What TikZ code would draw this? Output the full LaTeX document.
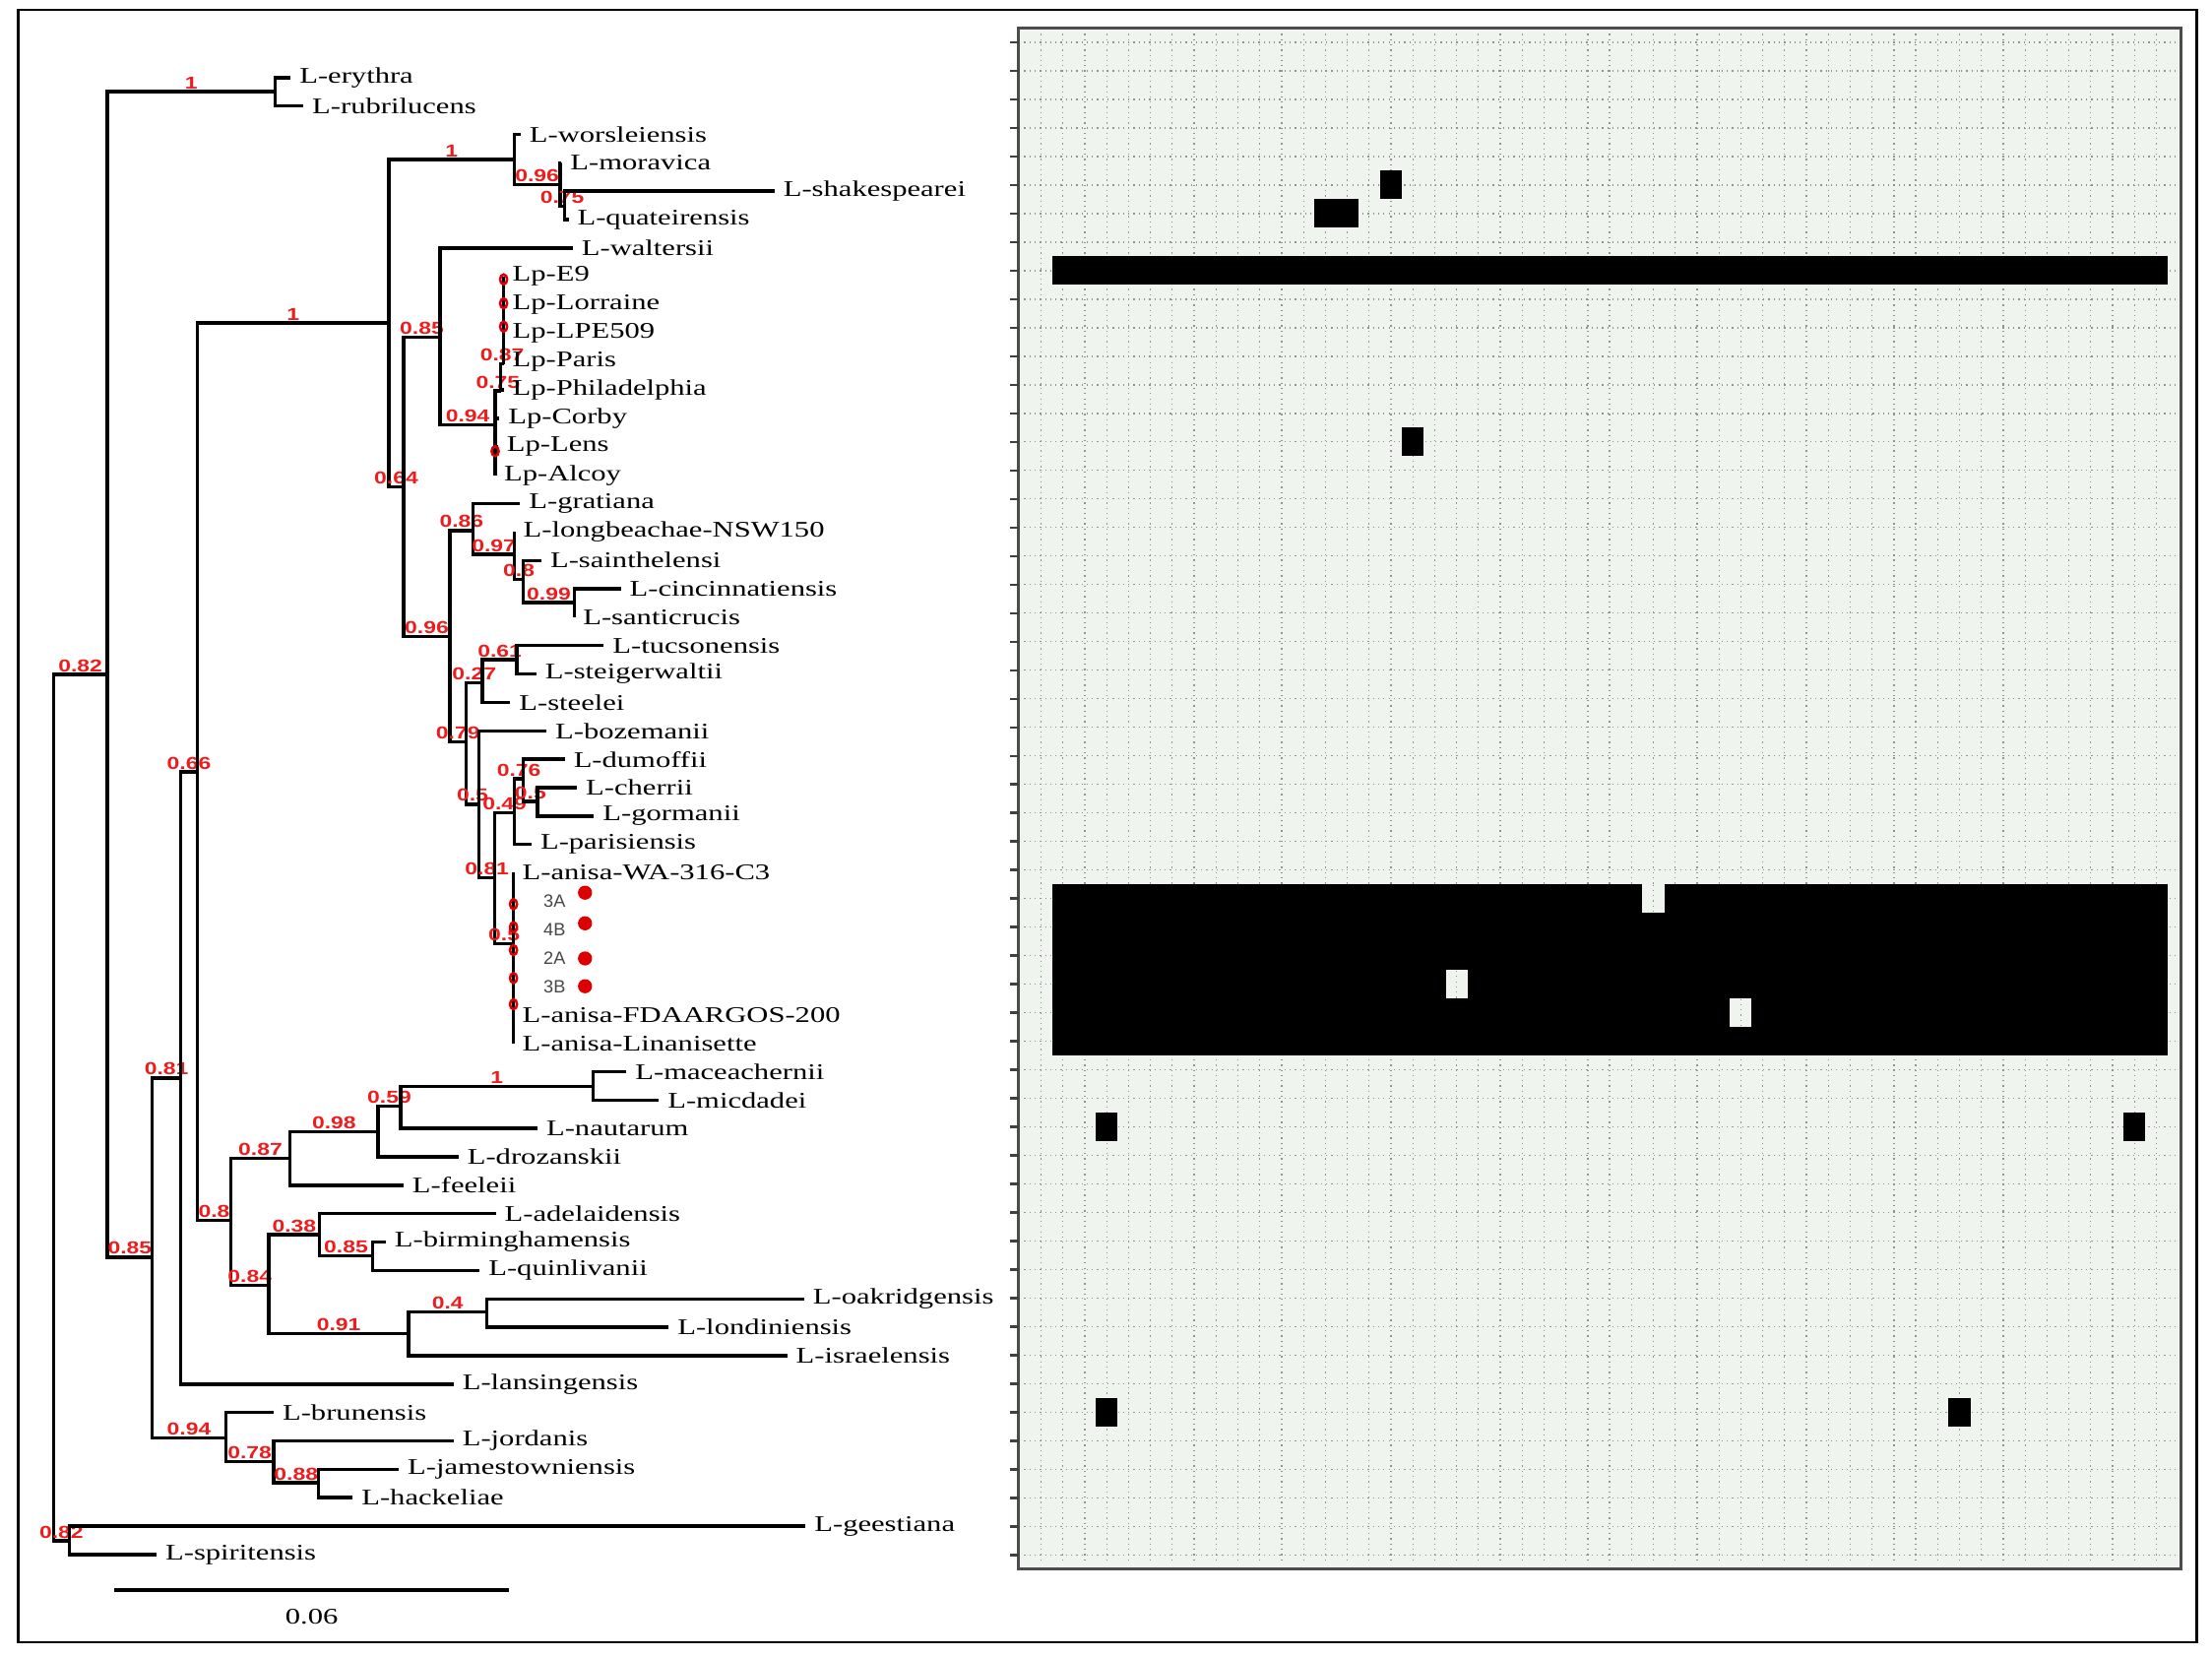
\documentclass[tikz,border=0pt]{standalone}
\usepackage{fontspec}
\usepackage{tikz}
\newfontfamily\leaffont{Liberation Serif}[FakeStretch=1.35]
\newfontfamily\suppfont{Liberation Sans}[FakeStretch=1.3]
\newfontfamily\isofont{Liberation Sans}
\definecolor{suppred}{RGB}{238,28,28}
\definecolor{dotred}{RGB}{222,0,0}
\definecolor{gridbg}{RGB}{240,244,238}
\definecolor{isogray}{RGB}{70,70,70}
\newcommand{\hmblock}[5]{\fill[#5] ({738+15.5*(#1-1)-7.75},{30+20.23*(#3-1)-10.1}) rectangle ({738+15.5*(#2-1)+7.75},{30+20.23*(#4-1)+10.1});}

\begin{document}
\begin{tikzpicture}[x=0.02cm, y=-0.02cm,
    branch/.style={line width=1.35pt},
    leaf/.style={anchor=west, inner sep=0pt, xshift=0.12cm, font=\leaffont\fontsize{9}{10}\selectfont},
    supp/.style={anchor=south, inner sep=0.4pt, text=suppred, font=\suppfont\bfseries\fontsize{7}{7}\selectfont},
    iso/.style={anchor=west, inner sep=0pt, text=isogray, font=\isofont\fontsize{7.2}{8}\selectfont},
    dotring/.style={draw=dotred, line width=1pt},
    hmgrid/.style={gray!85, line width=0.5pt, dash pattern=on 0.5pt off 1.6pt}
]
    \useasboundingbox (0,0) rectangle (1568,1174);
    \draw[line width=1.1pt] (13,7) rectangle (1557,1164);

    % heat map
    \draw[gray!60!black, line width=1pt, fill=gridbg] (722,20) rectangle (1546,1112);
    \foreach \c in {0,...,51}
        \draw[hmgrid] ({738+15.5*\c},24) -- ({738+15.5*\c},1108);
    \foreach \r in {0,...,53} {
        \draw[hmgrid] (726,{30+20.23*\r}) -- (1542,{30+20.23*\r});
        \draw[line width=1pt, gray!50!black] (716,{30+20.23*\r}) -- (722,{30+20.23*\r});
    }
    \hmblock{17}{17}{6}{6}{black}
    \hmblock{14}{15}{7}{7}{black}
    \hmblock{2}{52}{9}{9}{black}
    \hmblock{18}{18}{15}{15}{black}
    \hmblock{2}{52}{31}{36}{black}
    \hmblock{29}{29}{31}{31}{gridbg}
    \hmblock{20}{20}{34}{34}{gridbg}
    \hmblock{33}{33}{35}{35}{gridbg}
    \draw[hmgrid] ({738+15.5*28},627) -- ({738+15.5*28},647);
    \draw[hmgrid] ({738+15.5*19},688) -- ({738+15.5*19},708);
    \draw[hmgrid] ({738+15.5*32},708) -- ({738+15.5*32},728);
    \hmblock{4}{4}{39}{39}{black}
    \hmblock{51}{51}{39}{39}{black}
    \hmblock{4}{4}{49}{49}{black}
    \hmblock{43}{43}{49}{49}{black}

    % tree
    \foreach \n/\x/\y in {root/38/785, c82a/76/478, c82b/49/1092, c1a/195/65, c85a/108/891,
        c81a/128/764, c94a/160/1019, c66/140/547, c1b/275.7/229, c8a/163.5/865,
        c1c/364.5/113, c64/286/345, c96a/397/131, c75a/400/146, c85b/312/239,
        c96b/319/451, c94b/351/301, c75b/355/277, c87a/357/258, c86/335.4/376,
        c97/364.7/393, c8b/371/410.5, c99/407/427, c79/330.3/526, c27/342/484,
        c61/366.4/467.5, c5a/339.6/570, c81b/350.8/622, c49/364.7/576, c76/371/552,
        c5b/381/568, c5c/364/669, c87b/205.6/821, c98/268/802, c59/284/784,
        c1d/420.6/770, c84/190.6/911, c38/226.6/875, c85c/264/890, c91/289.7/945,
        c4/345/930, c78/194/1036, c88/225.7/1051}
        \coordinate (\n) at (\x,\y);
    \foreach \n/\x/\y in {ery/206/55.0, rub/215/75.1, wor/369/95.3, mor/398/115.4,
        sha/549/135.5, qua/403/155.7, wal/406/175.8, e9/357/195.9, lor/357/216.0,
        lpe/357/236.2, par/357/256.3, phi/357/276.4, cor/354/296.6, len/353/316.7,
        alc/351/336.8, gra/368.7/357.0, lon/364.7/377.1, sai/383.8/397.2,
        cin/440/417.3, san/407/437.5, tuc/428/457.6, ste/380.2/477.7,
        stl/361.7/497.9, boz/387.3/518.0, dum/400.3/538.1, che/409/558.3,
        gor/421/578.4, pas/376.8/598.5, wa/364/618.6, s3a/364/638.8, s4b/364/658.9,
        s2a/364/679.0, s3b/364/699.2, fda/364/719.3, lin/364/739.4, mac/444/759.6,
        mic/467/779.7, nau/381/799.8, dro/325/820.0, fee/286/840.1, ade/351.4/860.2,
        bir/273.4/880.3, qui/340/900.5, oak/570/920.6, ldn/474/940.7, isr/558/960.9,
        lan/321.5/981.0, bru/194/1001.1, jor/321.5/1021.2, jam/282.7/1041.4,
        hac/250/1061.5, gee/571/1081.6, spi/111/1101.8}
        \coordinate (\n) at (\x,\y);

    \foreach \p/\c/\s in {root/c82a/0.82, root/c82b/0.82, c82a/c1a/1, c82a/c85a/0.85,
        c85a/c81a/0.81, c85a/c94a/0.94, c81a/c66/0.66, c66/c1b/1, c66/c8a/0.8,
        c1b/c1c/1, c1b/c64/0.64, c1c/c96a/0.96, c96a/c75a/0.75, c64/c85b/0.85,
        c64/c96b/0.96, c85b/c94b/0.94, c94b/c75b/0.75, c75b/c87a/0.87,
        c96b/c86/0.86, c96b/c79/0.79, c86/c97/0.97, c97/c8b/0.8, c8b/c99/0.99,
        c79/c27/0.27, c79/c5a/0.5, c27/c61/0.61, c5a/c81b/0.81, c81b/c49/0.49,
        c81b/c5c/0.5, c49/c76/0.76, c76/c5b/0.5, c8a/c87b/0.87, c8a/c84/0.84,
        c87b/c98/0.98, c98/c59/0.59, c59/c1d/1, c84/c38/0.38, c84/c91/0.91,
        c38/c85c/0.85, c91/c4/0.4, c94a/c78/0.78, c78/c88/0.88}
        \draw[branch] (\p) |- (\c) node[supp, pos=0.75] (l-\c) {\s};
    \foreach \p/\c in {c82b/gee, c82b/spi, c1a/ery, c1a/rub, c81a/lan, c1c/wor,
        c96a/mor, c75a/sha, c75a/qua, c85b/wal, c94b/cor, c94b/len, c94b/alc,
        c75b/phi, c87a/e9, c87a/lor, c87a/lpe, c87a/par, c86/gra, c97/lon,
        c8b/sai, c99/cin, c99/san, c27/stl, c61/tuc, c61/ste, c5a/boz, c49/pas,
        c76/dum, c5b/che, c5b/gor, c5c/wa, c5c/s3a, c5c/s4b, c5c/s2a, c5c/s3b,
        c5c/fda, c5c/lin, c87b/fee, c98/dro, c59/nau, c1d/mac, c1d/mic, c38/ade,
        c85c/bir, c85c/qui, c91/isr, c4/oak, c4/ldn, c94a/bru, c78/jor,
        c88/jam, c88/hac}
        \draw[branch] (\p) |- (\c);

    \foreach \n/\t in {ery/L-erythra, rub/L-rubrilucens, wor/L-worsleiensis,
        mor/L-moravica, sha/L-shakespearei, qua/L-quateirensis, wal/L-waltersii,
        e9/Lp-E9, lor/Lp-Lorraine, lpe/Lp-LPE509, par/Lp-Paris, phi/Lp-Philadelphia,
        cor/Lp-Corby, len/Lp-Lens, alc/Lp-Alcoy, gra/L-gratiana,
        lon/L-longbeachae-NSW150, sai/L-sainthelensi, cin/L-cincinnatiensis,
        san/L-santicrucis, tuc/L-tucsonensis, ste/L-steigerwaltii, stl/L-steelei,
        boz/L-bozemanii, dum/L-dumoffii, che/L-cherrii, gor/L-gormanii,
        pas/L-parisiensis, wa/L-anisa-WA-316-C3, fda/L-anisa-FDAARGOS-200,
        lin/L-anisa-Linanisette, mac/L-maceachernii, mic/L-micdadei,
        nau/L-nautarum, dro/L-drozanskii, fee/L-feeleii, ade/L-adelaidensis,
        bir/L-birminghamensis, qui/L-quinlivanii, oak/L-oakridgensis,
        ldn/L-londiniensis, isr/L-israelensis, lan/L-lansingensis,
        bru/L-brunensis, jor/L-jordanis, jam/L-jamestowniensis, hac/L-hackeliae,
        gee/L-geestiana, spi/L-spiritensis}
        \node[leaf] (t-\n) at (\n) {\t};

    \foreach \n/\t/\d in {s3a/3A/632.7, s4b/4B/654.4, s2a/2A/679.3, s3b/3B/699} {
        \node[iso, xshift=0.42cm] (t-\n) at (\n) {\t};
        \fill[dotred] (414.7,\d) circle [radius=0.1cm];
    }
    \foreach \x/\y in {357/198, 357/215, 357/231.5, 351/319.8, 364/640.8,
        364/657.1, 364/673.4, 364/693.2, 364/711.8}
        \draw[dotring] (\x,\y) ellipse [x radius=0.05cm, y radius=0.07cm];

    % scale bar
    \coordinate (sbL) at (81,1127);
    \coordinate (sbR) at (361,1127);
    \draw[branch] (sbL) -- (sbR);
    \node[font=\leaffont\fontsize{9}{10}\selectfont] (sbT) at (221,1146) {0.06};
\end{tikzpicture}
\end{document}
